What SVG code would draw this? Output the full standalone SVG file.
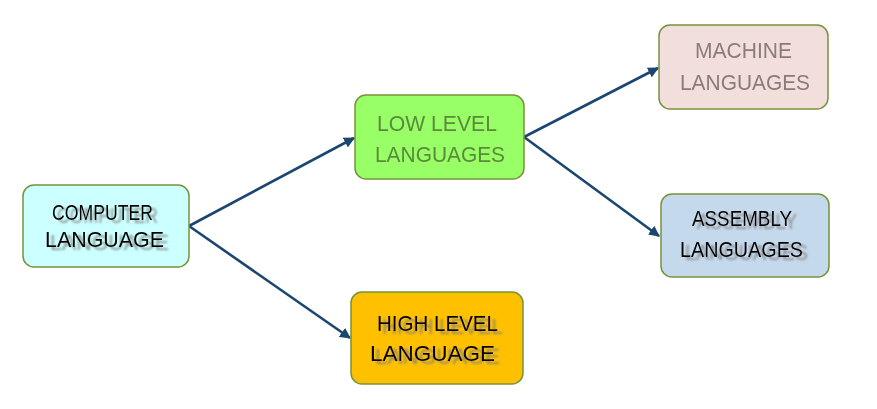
<svg xmlns="http://www.w3.org/2000/svg" width="877" height="409" viewBox="0 0 877 409">
  <defs>
    <marker id="arrow" viewBox="0 0 10 10" refX="9" refY="5" markerWidth="4.2" markerHeight="4.2" orient="auto" markerUnits="strokeWidth">
      <path d="M0,0 L10,5 L0,10 Z" fill="#1b4670"/>
    </marker>
    <!-- soft grey cast shadow under the black captions -->
    <filter id="cast" x="-10%" y="-40%" width="130%" height="190%">
      <feGaussianBlur in="SourceAlpha" stdDeviation="1.2" result="b"/>
      <feOffset in="b" dx="5" dy="3" result="o"/>
      <feFlood flood-color="#7a7a7a" flood-opacity="0.8"/>
      <feComposite in2="o" operator="in" result="s"/>
      <feMerge>
        <feMergeNode in="s"/>
        <feMergeNode in="SourceGraphic"/>
      </feMerge>
    </filter>
    <filter id="haze" x="-5%" y="-20%" width="110%" height="140%">
      <feGaussianBlur stdDeviation="0.4"/>
    </filter>
  </defs>
  <style>
    .box { stroke: #77933c; stroke-width: 1.5; }
    .t { font-family: "Liberation Sans", "Open Sans", sans-serif; font-size: 22.5px; }
    .ink { fill: #000000; filter: url(#cast); }
    .dim-green { fill: #5b8a3c; filter: url(#haze); }
    .dim-rose { fill: #8a7c7c; filter: url(#haze); }
    .link { fill: none; stroke: #1b4670; stroke-width: 2.6; marker-end: url(#arrow); }
  </style>

  <rect x="0" y="0" width="877" height="409" fill="#ffffff"/>

  <g id="connectors">
    <line class="link" x1="189" y1="226" x2="354" y2="138"/>
    <line class="link" x1="189" y1="226" x2="350" y2="338"/>
    <line class="link" x1="524" y1="137" x2="658" y2="68"/>
    <line class="link" x1="524" y1="137" x2="659" y2="236"/>
  </g>

  <g id="computer-language">
    <rect class="box" x="23" y="185" width="166" height="82" rx="11" fill="#ccffff"/>
    <text class="t ink" x="52" y="220" textLength="101" lengthAdjust="spacingAndGlyphs">COMPUTER</text>
    <text class="t ink" x="45" y="247" textLength="119" lengthAdjust="spacingAndGlyphs">LANGUAGE</text>
  </g>

  <g id="low-level-languages">
    <rect class="box" x="355" y="95" width="169" height="84" rx="11" fill="#99ff66"/>
    <text class="t dim-green" x="377" y="131" textLength="120" lengthAdjust="spacingAndGlyphs">LOW LEVEL</text>
    <text class="t dim-green" x="375" y="162" textLength="130" lengthAdjust="spacingAndGlyphs">LANGUAGES</text>
  </g>

  <g id="machine-languages">
    <rect class="box" x="659" y="25" width="169" height="84" rx="11" fill="#f2dfdb"/>
    <text class="t dim-rose" x="695" y="58" textLength="97" lengthAdjust="spacingAndGlyphs">MACHINE</text>
    <text class="t dim-rose" x="680" y="90" textLength="130" lengthAdjust="spacingAndGlyphs">LANGUAGES</text>
  </g>

  <g id="assembly-languages">
    <rect class="box" x="661" y="194" width="168" height="83" rx="11" fill="#c5d9ec"/>
    <text class="t ink" x="692" y="226" textLength="100" lengthAdjust="spacingAndGlyphs">ASSEMBLY</text>
    <text class="t ink" x="680" y="257" textLength="123" lengthAdjust="spacingAndGlyphs">LANGUAGES</text>
  </g>

  <g id="high-level-language">
    <rect class="box" x="351" y="292" width="172" height="92" rx="11" fill="#ffc000"/>
    <text class="t ink" x="377" y="331" textLength="121" lengthAdjust="spacingAndGlyphs">HIGH LEVEL</text>
    <text class="t ink" x="370" y="361" textLength="125" lengthAdjust="spacingAndGlyphs">LANGUAGE</text>
  </g>
</svg>
